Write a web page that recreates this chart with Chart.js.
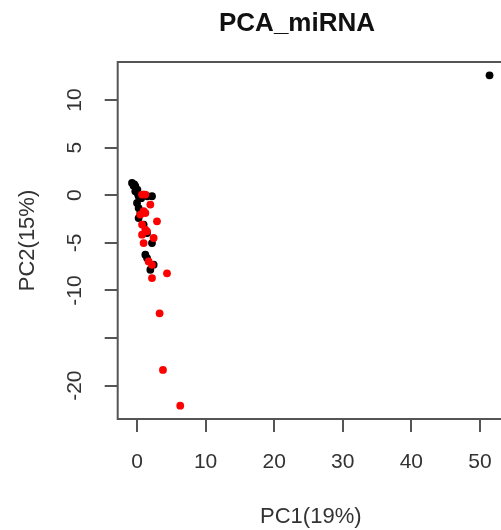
<!DOCTYPE html>
<html>
<head>
<meta charset="utf-8">
<script src="https://cdn.jsdelivr.net/npm/chart.js@4"></script>
<style>
  html, body { margin: 0; padding: 0; background: #fff; overflow: hidden; }
  #wrap { width: 501px; height: 530px; overflow: hidden; }
</style>
</head>
<body>
<div id="wrap"><canvas id="pca" width="510" height="530"></canvas></div>
<script>
// Sample scores (PC1, PC2)
const redX = [0.73, 1.21, 1.94, 0.96, 0.48, 1.21, 2.91, 0.73, 1.21, 0.73, 1.46, 2.42, 0.96, 1.69, 2.18, 4.37, 2.18, 3.29, 3.78, 6.3];
const redY = [0.07, 0.07, -0.98, -1.68, -2.03, -1.86, -2.74, -3.08, -3.6, -4.14, -3.79, -4.49, -5.02, -6.95, -7.3, -8.2, -8.7, -12.4, -18.35, -22.1];

const blackX = [-0.73, -0.5, -0.4, -0.25, 0.05, -0.25, 0.1, 0.23, 0.6, 0.96, 1.5, 2.18, 0.0, 0.23, 0.48, 0.23, 0.96, 1.46, 2.18, 1.21, 1.46, 2.42, 1.94, 51.4];
const blackY = [1.29, 1.0, 1.15, 0.95, 0.6, 0.42, 0.2, -0.1, -0.3, 0.07, -0.1, -0.1, -0.81, -1.34, -1.86, -2.39, -3.08, -3.97, -5.02, -6.24, -6.6, -7.29, -7.82, 12.6];

// Axis ticks
const xTicks = [0, 10, 20, 30, 40, 50];
const yTicks = [-20, -15, -10, -5, 0, 5, 10];
const yTickLabels = ["-20", "", "-10", "-5", "0", "5", "10"];

const FONT = '"Liberation Sans", Arial, sans-serif';
const AXIS = "#555";

const toPoints = (xs, ys) => xs.map((x, i) => ({ x: x, y: ys[i] }));

// box around plot + main title
const boxPlugin = {
  id: "box",
  afterDatasetsDraw(chart) {
    const a = chart.chartArea;
    const ctx = chart.ctx;
    ctx.save();
    ctx.strokeStyle = AXIS;
    ctx.lineWidth = 2;
    ctx.strokeRect(a.left, a.top, a.right - a.left, a.bottom - a.top);
    ctx.restore();
  },
  afterDraw(chart) {
    const ctx = chart.ctx;
    ctx.save();
    ctx.fillStyle = "#111";
    ctx.font = "bold 26px " + FONT;
    ctx.textAlign = "center";
    ctx.textBaseline = "middle";
    ctx.fillText("PCA_miRNA", 297, 24);
    ctx.restore();
  }
};

new Chart(document.getElementById("pca"), {
  type: "scatter",
  data: {
    datasets: [
      {
        label: "red",
        data: toPoints(redX, redY),
        backgroundColor: "#ff0000",
        borderWidth: 0,
        pointRadius: 3.9
      },
      {
        label: "black",
        data: toPoints(blackX, blackY),
        backgroundColor: "#000000",
        borderWidth: 0,
        pointRadius: 3.9
      }
    ]
  },
  options: {
    responsive: false,
    animation: false,
    devicePixelRatio: 1,
    layout: { padding: { top: 62, right: 6, left: 0, bottom: 0 } },
    plugins: {
      legend: { display: false },
      tooltip: { enabled: false }
    },
    scales: {
      x: {
        type: "linear",
        min: -2.82,
        max: 53.49,
        afterBuildTicks: (axis) => { axis.ticks = xTicks.map(v => ({ value: v })); },
        afterFit: (axis) => { axis.height = 111; },
        border: { display: false },
        grid: { drawOnChartArea: false, drawTicks: true, tickLength: 13, color: AXIS, lineWidth: 2 },
        ticks: {
          color: "#333",
          font: { family: FONT, size: 21 },
          padding: 18,
          maxRotation: 0,
          callback: (v) => String(v)
        },
        title: {
          display: true,
          text: "PC1(19%)",
          color: "#333",
          font: { family: FONT, size: 22 },
          padding: { top: 0, bottom: 0 }
        }
      },
      y: {
        type: "linear",
        min: -23.5,
        max: 14.0,
        afterBuildTicks: (axis) => { axis.ticks = yTicks.map(v => ({ value: v })); },
        afterFit: (axis) => { axis.width = 117.7; },
        border: { display: false },
        grid: { drawOnChartArea: false, drawTicks: true, tickLength: 13, color: AXIS, lineWidth: 2 },
        ticks: {
          color: "#333",
          font: { family: FONT, size: 21 },
          padding: 14,
          minRotation: 90,
          maxRotation: 90,
          crossAlign: "center",
          callback: (v) => yTickLabels[yTicks.indexOf(v)]
        },
        title: {
          display: true,
          text: "PC2(15%)",
          color: "#333",
          font: { family: FONT, size: 22 },
          padding: { top: 15, bottom: 0 }
        }
      }
    }
  },
  plugins: [boxPlugin]
});
</script>
</body>
</html>
